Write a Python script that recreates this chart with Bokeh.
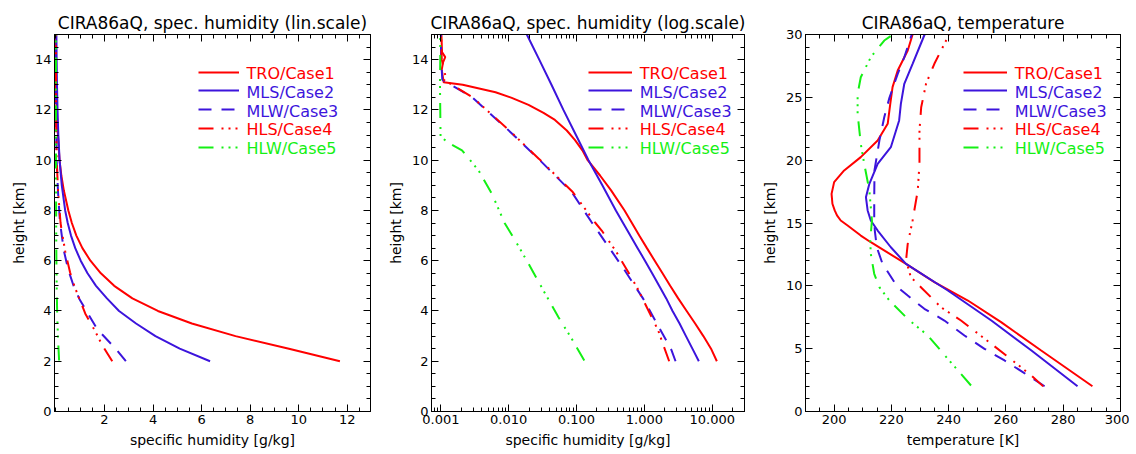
from bokeh.plotting import figure
from bokeh.models import (Range1d, FixedTicker, LinearAxis, LogAxis, Legend, LegendItem,
                          CustomJSTickFormatter, Label)
from bokeh.layouts import row
from bokeh.embed import file_html
from bokeh.resources import INLINE

FONT = "DejaVu Sans"
RED = "#ff0000"
BLUE = "#3c14dc"
GREEN = "#14f014"

names = ["TRO/Case1", "MLS/Case2", "MLW/Case3", "HLS/Case4", "HLW/Case5"]
colors = [RED, BLUE, BLUE, RED, GREEN]
dashes = ["solid", "solid", "13 10", "15 8 2 5 2 5 2 9", "15 8 2 5 2 5 2 9"]

# ---- specific humidity [g/kg] vs height [km]
tro_qh = [2.0, 2.5, 3.0, 3.5, 4.0, 4.5, 5.0, 5.5, 6.0, 6.5, 7.0, 7.5, 8.0, 8.8, 9.39, 10.0, 10.39, 10.8, 11.18, 11.6, 11.88, 12.2, 12.48, 12.7, 13.0, 13.1, 13.6, 13.9, 14.1, 14.3, 15.0]
tro_q = [11.7, 9.6, 7.4, 5.6, 4.2, 3.15, 2.4, 1.85, 1.42, 1.09, 0.84, 0.655, 0.51, 0.323, 0.222, 0.146, 0.122, 0.095, 0.0718, 0.048, 0.0326, 0.0196, 0.0111, 0.0064, 0.0021, 0.0011, 0.00103, 0.00108, 0.00116, 0.00104, 0.00102]

mls_qh = [2.0, 2.5, 3.0, 3.5, 4.0, 4.5, 5.0, 5.5, 6.0, 6.5, 7.0, 7.5, 8.0, 9.0, 10.0, 11.0, 12.0, 13.0, 14.0, 15.0]
mls_q = [6.35, 5.1, 4.1, 3.3, 2.6, 2.1, 1.65, 1.3, 1.02, 0.795, 0.62, 0.485, 0.38, 0.24, 0.15, 0.098, 0.064, 0.0427, 0.0282, 0.0185]

mlw_qh = [2.0, 2.45, 3.29, 4.48, 4.95, 5.64, 6.41, 7.53, 8.73, 10.05, 11.25, 12.51, 13.2, 14.0, 15.0]
mlw_q = [2.88, 2.5, 1.69, 0.964, 0.743, 0.506, 0.323, 0.167, 0.085, 0.0275, 0.0094, 0.00288, 0.00105, 0.00101, 0.001]

hls_qh = [2.0, 2.63, 3.22, 3.89, 4.97, 5.54, 6.37, 7.2, 7.5, 8.73, 10.05, 11.25, 12.51, 13.2, 13.3, 14.0, 15.0]
hls_q = [2.32, 1.91, 1.6, 1.21, 0.767, 0.58, 0.382, 0.235, 0.19, 0.088, 0.028, 0.0096, 0.0029, 0.0011, 0.00118, 0.00103, 0.00101]

hlw_qh = [2.03, 2.89, 3.75, 4.81, 5.88, 6.8, 7.5, 8.66, 9.59, 10.39, 10.65, 10.92, 12.0, 13.0, 14.0, 15.0]
hlw_q = [0.13, 0.085, 0.0542, 0.0326, 0.0196, 0.0125, 0.0087, 0.00566, 0.0036, 0.00205, 0.00138, 0.00099, 0.00098, 0.00097, 0.00098, 0.00098]

# ---- temperature [K] vs height [km]
tro_th = [2.01, 4.85, 7.11, 8.83, 10.29, 11.75, 13.47, 14.0, 14.8, 15.2, 15.6, 16.0, 16.53, 17.32, 18.25, 19.18, 20.24, 21.56, 22.89, 24.48, 25.81, 27.13, 28.73, 30.0]
tro_t = [290.2, 272.3, 258.3, 246.7, 235.0, 225.1, 212.8, 209.3, 204.7, 202.3, 201.0, 200.2, 199.4, 199.1, 200.0, 203.5, 209.3, 215.2, 218.7, 219.6, 220.4, 222.2, 225.7, 227.4]

mls_th = [2.01, 4.85, 7.24, 9.63, 11.75, 13.07, 14.4, 15.2, 16.0, 17.05, 18.12, 19.71, 21.03, 23.16, 24.48, 26.08, 27.67, 30.0]
mls_t = [285.0, 268.9, 254.9, 239.7, 225.1, 219.8, 215.2, 212.8, 211.7, 211.1, 212.3, 215.2, 219.8, 222.7, 223.3, 224.5, 227.4, 231.6]

mlw_th = [2.01, 3.13, 4.06, 4.99, 6.05, 7.24, 8.17, 9.23, 9.89, 11.75, 13.07, 14.4, 15.2, 17.0, 19.2, 21.56, 23.42, 24.96, 26.87, 28.19, 29.8, 30.0]
mlw_t = [273.5, 265.9, 259.5, 252.5, 245.5, 238.5, 231.5, 225.7, 222.2, 216.9, 214.9, 214.2, 214.0, 214.0, 214.1, 215.8, 217.5, 219.3, 222.2, 224.5, 226.8, 227.1]

hls_th = [2.0, 2.86, 4.46, 5.91, 7.24, 8.3, 9.89, 10.69, 12.02, 13.34, 15.2, 17.59, 19.71, 22.36, 24.21, 26.08, 27.67, 29.8, 30.0]
hls_t = [273.0, 268.9, 260.1, 251.9, 244.3, 237.3, 230.3, 226.8, 225.1, 225.7, 227.4, 229.2, 229.8, 229.8, 230.4, 232.1, 235.0, 239.7, 240.0]

hlw_th = [2.07, 4.19, 6.05, 7.37, 8.83, 9.89, 10.96, 12.55, 13.6, 15.2, 17.59, 19.71, 21.3, 23.69, 25.28, 26.6, 28.19, 29.52, 30.0]
hlw_t = [247.8, 239.7, 232.7, 225.7, 219.3, 215.8, 214.0, 212.8, 212.6, 213.2, 212.3, 210.5, 209.3, 208.2, 208.2, 209.3, 212.8, 217.5, 220.5]

q_series = [(tro_q, tro_qh), (mls_q, mls_qh), (mlw_q, mlw_qh), (hls_q, hls_qh), (hlw_q, hlw_qh)]
t_series = [(tro_t, tro_th), (mls_t, mls_th), (mlw_t, mlw_th), (hls_t, hls_th), (hlw_t, hlw_th)]

titles = ["CIRA86aQ, spec. humidity (lin.scale)",
          "CIRA86aQ, spec. humidity (log.scale)",
          "CIRA86aQ, temperature"]
xlabels = ["specific humidity [g/kg]", "specific humidity [g/kg]", "temperature [K]"]
ylabel = "height [km]"

lin_xticks = [2, 4, 6, 8, 10, 12]
lin_xminor = [i * 0.5 for i in range(0, 27)]
hum_yticks = [0, 2, 4, 6, 8, 10, 12, 14]
hum_yminor = [i * 0.5 for i in range(0, 31)]
log_xticks = [0.001, 0.01, 0.1, 1.0, 10.0]
log_xminor = [m * 10.0 ** e for e in range(-4, 2) for m in range(2, 10)]
t_xticks = [200, 220, 240, 260, 280, 300]
t_xminor = list(range(190, 301, 5))
t_yticks = [0, 5, 10, 15, 20, 25, 30]
t_yminor = list(range(0, 31))

FRAME_H = 377


def style_axis(ax, ticks, minor, labels=True, fixed3=False):
    ax.ticker = FixedTicker(ticks=ticks, minor_ticks=minor)
    ax.major_tick_in = 7
    ax.major_tick_out = 0
    ax.minor_tick_in = 4
    ax.minor_tick_out = 0
    ax.axis_line_color = "black"
    ax.major_tick_line_color = "black"
    ax.minor_tick_line_color = "black"
    if labels:
        ax.major_label_text_font = FONT
        ax.major_label_text_font_size = "13px"
        ax.major_label_text_color = "black"
        ax.major_label_standoff = 3
        ax.axis_label_text_font = FONT
        ax.axis_label_text_font_size = "14px"
        ax.axis_label_text_font_style = "normal"
        ax.axis_label_text_color = "black"
        ax.axis_label_standoff = 5
        if fixed3:
            ax.formatter = CustomJSTickFormatter(code="return tick.toFixed(3)")
    else:
        ax.formatter = CustomJSTickFormatter(code="return ''")
        ax.major_label_text_font_size = "1px"
        ax.major_label_standoff = 0
        ax.axis_label = None


def make_panel(idx, series, xr, yr, xaxis_type, frame_w, bl, br, xt, xm, yt, ym, lx, gw):
    p = figure(frame_width=frame_w, frame_height=FRAME_H, x_range=xr, y_range=yr,
               x_axis_type=xaxis_type, output_backend="svg", toolbar_location=None,
               min_border_left=bl, min_border_right=br, min_border_top=34, min_border_bottom=35)
    p.xgrid.visible = False
    p.ygrid.visible = False
    p.outline_line_color = "black"
    p.background_fill_color = "white"
    p.border_fill_color = "white"
    p.title.text = titles[idx]
    p.title.text_font = FONT
    p.title.text_font_size = "17px"
    p.title.text_font_style = "normal"
    p.title.text_color = "black"
    p.title.align = "center"
    p.title.standoff = 3
    p.xaxis[0].axis_label = xlabels[idx]
    p.yaxis[0].axis_label = ylabel
    style_axis(p.xaxis[0], xt, xm, True, xaxis_type == "log")
    style_axis(p.yaxis[0], yt, ym, True)
    top = LogAxis() if xaxis_type == "log" else LinearAxis()
    style_axis(top, xt, xm, False)
    p.add_layout(top, "above")
    right = LinearAxis()
    style_axis(right, yt, ym, False)
    p.add_layout(right, "right")

    for i, (xs, hs) in enumerate(series):
        r = p.line(xs, hs, line_color=colors[i], line_width=2, line_dash=dashes[i])
        row_center = 37.7 + 18.7 * i
        gh = 12
        leg = Legend(items=[LegendItem(label="", renderers=[r])],
                     location=(lx, FRAME_H - row_center - gh / 2),
                     glyph_width=gw, glyph_height=gh, label_standoff=0, label_width=0,
                     label_height=0, padding=0, margin=0, spacing=0,
                     border_line_color=None, background_fill_alpha=0,
                     label_text_font=FONT, label_text_font_size="1px")
        p.add_layout(leg)
        p.add_layout(Label(x=lx + gw + 7, y=FRAME_H - row_center - 1.5,
                           x_units="screen", y_units="screen", text=names[i],
                           text_font=FONT, text_font_size="16px", text_color=colors[i],
                           text_baseline="alphabetic", text_align="left"))
    return p


p1 = make_panel(0, q_series, Range1d(-0.06, 12.96), Range1d(0, 15), "linear", 316, 54, 14,
                lin_xticks, lin_xminor, hum_yticks, hum_yminor, 144, 41)
p2 = make_panel(1, q_series, Range1d(7.28e-4, 29.9), Range1d(0, 15), "log", 313, 47, 14,
                log_xticks, log_xminor, hum_yticks, hum_yminor, 157.3, 44)
p3 = make_panel(2, t_series, Range1d(190, 300), Range1d(0, 30), "linear", 315, 46, 9,
                t_xticks, t_xminor, t_yticks, t_yminor, 158.3, 44)

layout = row(p1, p2, p3)
open("out.html", "w").write(file_html(layout, INLINE))
